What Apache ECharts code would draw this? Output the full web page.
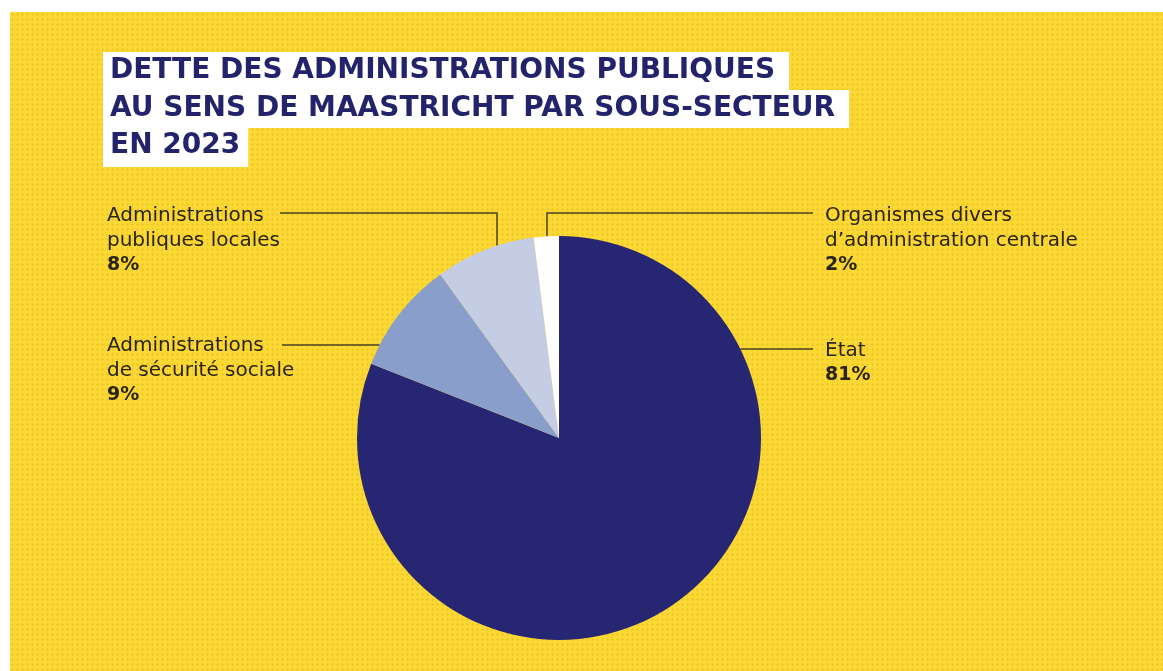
<!DOCTYPE html>
<html>
<head>
<meta charset="utf-8">
<title>Dette des administrations publiques</title>
<script src="https://cdn.jsdelivr.net/npm/echarts@6/dist/echarts.min.js"></script>
<style>
  html, body { margin: 0; padding: 0; background: #fff; }
  #chart {
    position: absolute;
    left: 10px;
    top: 12px;
    width: 1153px;
    height: 659px;
    background-color: #fcd834;
    background-image: radial-gradient(circle, rgba(214, 170, 20, 0.35) 1px, transparent 1.3px);
    background-size: 5px 5px;
  }
</style>
</head>
<body>
<div id="chart"></div>
<script>
// données (ordre horaire depuis midi)
var titleLines = [
  'DETTE DES ADMINISTRATIONS PUBLIQUES',
  'AU SENS DE MAASTRICHT PAR SOUS-SECTEUR',
  'EN 2023'
]
var sectors = [
  'État',
  'Administrations\nde sécurité sociale',
  'Administrations\npubliques locales',
  'Organismes divers\nd’administration centrale'
]
var shares = [81, 9, 8, 2]
var sliceColors = ['#272672', '#8a9ecb', '#c4cde3', '#ffffff']

var chart = echarts.init(document.getElementById('chart'))

var CX = 549, CY = 426, R = 202
var ink = '#2a2414'
var lineColor = '#4b4222'
var labelFont = 'DejaVu Sans'

// où placer chaque étiquette et comment tirer son trait
var placement = [
  { x: 815, y: 326, hook: 'h', lineY: 337, end: 803 },
  { x: 97, y: 321, hook: 'h', lineY: 333, end: 272 },
  { x: 97, y: 191, hook: 'v', lineX: 487, lineY: 201, end: 270 },
  { x: 815, y: 191, hook: 'v', lineX: 537, lineY: 201, end: 803 }
]

function titleText() {
  return titleLines.map(function (l, i) {
    return '{' + (i === titleLines.length - 1 ? 'last' : 't') + '|' + l + '}'
  }).join('\n')
}

function labelText(p) {
  var parts = p.name.split('\n').map(function (l) { return '{n|' + l + '}' })
  parts.push('{p|' + p.value + '%}')
  return parts.join('\n')
}

function layoutLabel(params) {
  var pl = placement[params.dataIndex]
  var pts
  if (pl.hook === 'h') {
    var dy = pl.lineY - CY
    var dx = Math.sqrt(R * R - dy * dy)
    var ax = pl.end > CX ? CX + dx : CX - dx
    pts = [[ax, pl.lineY], [(ax + pl.end) / 2, pl.lineY], [pl.end, pl.lineY]]
  } else {
    var ddx = pl.lineX - CX
    var ay = CY - Math.sqrt(R * R - ddx * ddx)
    pts = [[pl.lineX, ay], [pl.lineX, pl.lineY], [pl.end, pl.lineY]]
  }
  return {
    x: pl.x,
    y: pl.y,
    align: 'left',
    verticalAlign: 'top',
    labelLinePoints: pts
  }
}

var titleStyle = {
  fontFamily: 'DejaVu Sans',
  fontSize: 28,
  fontWeight: 'bold',
  color: '#23236c',
  backgroundColor: '#ffffff',
  height: 38,
  lineHeight: 38,
  padding: [0, 14, 0, 7]
}

var option = {
  backgroundColor: 'transparent',
  animation: false,
  title: {
    left: 93,
    top: 40,
    padding: 0,
    text: titleText(),
    textStyle: {
      rich: {
        t: titleStyle,
        last: Object.assign({}, titleStyle, { padding: [0, 8, 2, 7] })
      }
    }
  },
  series: [
    {
      type: 'pie',
      center: [CX, CY],
      radius: [0, R],
      startAngle: 90,
      clockwise: true,
      avoidLabelOverlap: false,
      itemStyle: { borderWidth: 0 },
      label: {
        show: true,
        position: 'outside',
        formatter: labelText,
        rich: {
          n: { fontFamily: labelFont, fontSize: 20, color: ink, lineHeight: 25 },
          p: { fontFamily: labelFont, fontSize: 19, fontWeight: 'bold', color: ink, lineHeight: 25 }
        }
      },
      labelLine: {
        show: true,
        lineStyle: { color: lineColor, width: 1.5 }
      },
      labelLayout: layoutLabel,
      emphasis: { disabled: true },
      data: sectors.map(function (s, i) {
        return { name: s, value: shares[i], itemStyle: { color: sliceColors[i] } }
      })
    }
  ]
}

chart.setOption(option)
window.addEventListener('resize', function () { chart.resize() })
</script>
</body>
</html>
